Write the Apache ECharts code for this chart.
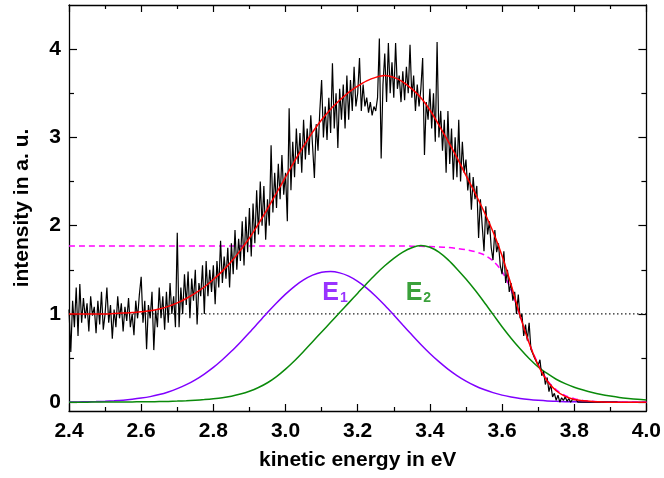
<!DOCTYPE html>
<html><head><meta charset="utf-8">
<script src="https://cdn.jsdelivr.net/npm/echarts@6/dist/echarts.min.js"></script>
<style>html,body{margin:0;padding:0;background:#fff}#c{width:664px;height:478px}</style>
</head><body><div id="c"></div>
<script>
// ---- tick values ----
const xMajorTicks = [2.4, 2.6, 2.8, 3.0, 3.2, 3.4, 3.6, 3.8, 4.0];
const xMinorTicks = [2.5, 2.7, 2.9, 3.1, 3.3, 3.5, 3.7, 3.9];
const yMajorTicks = [0, 1, 2, 3, 4];
const yMinorTicks = [0.5, 1.5, 2.5, 3.5];

// ---- measured spectrum (sampled every 0.005 eV from 2.40 eV) ----
const measuredStart = 2.4;
const measuredStep = 0.005;
const measured = [
  1.05,0.57,1.15,0.85,1.3,0.75,1.34,0.9,1.18,0.95,1.12,0.8,1.2,0.98,1.08,0.78,1.15,0.88,1.25,0.82,
  1.0,1.3,0.9,1.1,0.72,1.05,0.85,1.2,0.95,1.12,0.8,1.08,0.92,1.18,0.85,1.0,0.76,1.15,0.95,1.22,
  1.42,0.9,1.15,0.6,1.1,0.95,1.25,0.59,1.05,0.85,1.3,0.95,1.2,0.82,1.25,0.9,1.35,1.0,1.2,0.85,
  1.92,0.85,1.3,1.0,1.45,1.1,1.48,0.95,1.4,1.15,1.5,0.88,1.35,1.2,1.55,1.0,1.6,1.2,1.5,1.25,
  1.55,1.11,1.6,1.3,1.83,1.35,1.65,1.4,1.75,1.3,1.8,1.45,1.95,1.5,1.85,1.6,2.05,1.55,2.1,1.7,
  2.2,1.65,2.25,1.8,2.4,1.9,2.5,2.0,2.45,1.84,2.3,2.0,2.91,2.15,2.6,2.2,2.7,2.3,2.8,2.35,
  2.6,2.05,3.33,2.4,2.95,2.55,3.1,2.7,3.05,2.6,3.2,2.75,3.1,2.8,3.25,2.9,2.54,3.15,2.85,3.3,
  3.65,3.0,3.35,2.97,3.45,3.05,3.84,3.1,3.5,2.88,3.55,3.2,3.6,3.1,3.7,3.2,3.65,3.3,3.8,3.35,
  3.5,3.9,3.3,3.6,3.35,3.45,3.28,3.4,3.25,3.35,3.3,3.45,4.12,2.76,3.6,3.95,3.4,4.07,3.5,3.85,
  3.45,4.07,3.55,3.7,3.4,3.75,3.42,3.8,3.5,4.05,3.45,3.7,3.3,3.6,3.35,3.55,3.9,2.80,3.4,3.2,
  3.55,3.1,3.5,2.95,4.08,3.0,3.3,2.85,3.2,2.6,3.3,2.7,3.1,2.52,3.0,2.55,3.2,2.5,2.95,2.6,
  2.75,2.4,2.6,2.18,2.55,2.3,2.45,1.86,2.3,2.0,1.71,2.22,1.9,2.05,1.75,1.61,1.95,1.7,1.8,1.55,
  1.45,1.71,1.35,1.5,1.25,1.35,1.15,1.25,1.0,1.22,0.95,1.0,0.75,0.88,0.7,0.9,0.6,0.55,0.5,0.48,
  0.42,0.48,0.3,0.35,0.2,0.28,0.12,0.2,0.06,0.1,0.02,0.08,0.0,0.05,0.02,0.06,0.01,0.04,0.0,0.03,
  0.01,0.03,0.0,0.02,0.0,0.01,0.0,0.02,0.0,0.01,0.0,0.015,0.0,0.01,0.0,0.01,0.0,0.01,0.0,0.0,
  0.0,0.01,0.0,0.01,0.0
];

// ---- curves below are sampled every 0.025 eV from 2.40 eV ----
const curveStart = 2.4;
const curveStep = 0.025;

// total fit (red)
const fitY = [
  1.00,1.00,1.00,1.00,1.00,1.005,1.01,1.015,1.025,1.035,1.055,1.085,
  1.125,1.175,1.235,1.305,1.39,1.485,1.595,1.72,1.86,2.02,2.19,2.37,
  2.55,2.73,2.90,3.06,3.20,3.32,3.42,3.51,3.58,3.64,3.68,3.70,
  3.68,3.63,3.55,3.45,3.31,3.14,2.96,2.77,2.57,2.37,2.16,1.93,
  1.66,1.33,0.98,0.67,0.42,0.24,0.13,0.065,0.03,0.015,0.007,0.003,
  0.0,0.0,0.0,0.0,0.0
];

// component E1 (violet)
const e1Y = [
  0.002,0.003,0.005,0.007,0.011,0.016,0.023,0.033,0.046,0.063,0.086,0.116,
  0.153,0.198,0.253,0.319,0.394,0.481,0.576,0.680,0.789,0.902,1.015,1.123,
  1.224,1.313,1.385,1.439,1.471,1.480,1.465,1.428,1.369,1.293,1.201,1.098,
  0.988,0.875,0.763,0.654,0.552,0.459,0.375,0.302,0.239,0.186,0.143,0.108,
  0.080,0.059,0.042,0.030,0.021,0.014,0.010,0.006,0.004,0.003,0.002,0.001,
  0.001,0.001,0.0,0.0,0.0
];

// component E2 (green)
const e2Y = [
  0.0,0.0,0.0005,0.001,0.001,0.0015,0.002,0.003,0.004,0.005,0.007,0.009,
  0.012,0.016,0.022,0.029,0.038,0.05,0.068,0.092,0.124,0.166,0.22,0.29,
  0.375,0.47,0.575,0.685,0.795,0.905,1.015,1.125,1.235,1.345,1.45,1.545,
  1.63,1.70,1.75,1.775,1.755,1.70,1.615,1.51,1.395,1.27,1.135,0.995,
  0.855,0.725,0.605,0.495,0.40,0.325,0.26,0.21,0.17,0.138,0.11,0.088,
  0.07,0.054,0.042,0.032,0.025
];

// ---- cutoff envelope (magenta dashed) ----
const edgeX = [2.4,3.3,3.325,3.35,3.375,3.4,3.425,3.45,3.475,3.5,3.525,3.55,3.575,3.6,3.625,3.65,3.675,3.7,3.725,3.75,3.775,3.8,3.825,3.85,3.875,3.9,4.0];
const edgeY = [1.77,1.77,1.77,1.768,1.766,1.763,1.758,1.752,1.742,1.728,1.705,1.67,1.6,1.48,1.27,0.98,0.67,0.43,0.25,0.14,0.075,0.04,0.02,0.01,0.004,0.0,0.0];

// ---- constant background ----
const bgX = [2.4, 4.0];
const bgY = [1.0, 1.0];

const zip = (xs, ys) => xs.map((x, i) => [x, ys[i]]);
const onGrid = (start, step, ys) => ys.map((v, i) => [+(start + i * step).toFixed(4), v]);

const FONT = '"Liberation Sans", Arial, Helvetica, sans-serif';
const black = '#000';
const lineSt = { color: black, width: 1.3 };

function xAxisDef(pos, ticks, len, showLine, showLabel) {
  return {
    type: 'value', position: pos, min: 2.4, max: 4.0,
    axisLine: { show: showLine, onZero: false, lineStyle: lineSt },
    axisTick: { show: true, inside: true, length: len, customValues: ticks, lineStyle: { color: black, width: 1.2 } },
    axisLabel: showLabel ? { show: true, customValues: ticks, formatter: v => Number(v).toFixed(1),
      fontSize: 21, fontWeight: 'bold', color: black, fontFamily: FONT, margin: 10 } : { show: false },
    splitLine: { show: false }
  };
}
function yAxisDef(pos, ticks, len, showLine, showLabel) {
  return {
    type: 'value', position: pos, min: -0.1, max: 4.5,
    axisLine: { show: showLine, onZero: false, lineStyle: lineSt },
    axisTick: { show: true, inside: true, length: len, customValues: ticks, lineStyle: { color: black, width: 1.2 } },
    axisLabel: showLabel ? { show: true, customValues: ticks, formatter: v => String(Math.round(v)),
      fontSize: 21, fontWeight: 'bold', color: black, fontFamily: FONT, margin: 8 } : { show: false },
    splitLine: { show: false }
  };
}

const xMain = xAxisDef('bottom', xMajorTicks, 7, true, true);
xMain.name = 'kinetic energy in eV';
xMain.nameLocation = 'middle';
xMain.nameGap = 39;
xMain.nameTextStyle = { fontSize: 21, fontWeight: 'bold', color: black, fontFamily: FONT };

const yMain = yAxisDef('left', yMajorTicks, 8, true, true);
yMain.name = 'intensity in a. u.';
yMain.nameLocation = 'middle';
yMain.nameGap = 36;
yMain.nameTextStyle = { fontSize: 21, fontWeight: 'bold', color: black, fontFamily: FONT };

const labelRich = (c) => ({
  e: { fontSize: 25, fontWeight: 'bold', color: c, fontFamily: FONT },
  s: { fontSize: 14, fontWeight: 'bold', color: c, fontFamily: FONT, verticalAlign: 'bottom', padding: [0, 0, 1, 1] }
});

const smoothLine = (name, data, style, z) => ({
  name, type: 'line', data, showSymbol: false, smooth: 0.3, z, lineStyle: style
});

const option = {
  animation: false,
  backgroundColor: '#fff',
  grid: { left: 69, right: 17, top: 5, bottom: 67, containLabel: false },
  xAxis: [
    xMain,
    xAxisDef('bottom', xMinorTicks, 4, false, false),
    xAxisDef('top', xMajorTicks, 7, true, false),
    xAxisDef('top', xMinorTicks, 4, false, false)
  ],
  yAxis: [
    yMain,
    yAxisDef('left', yMinorTicks, 5, false, false),
    yAxisDef('right', yMajorTicks, 8, true, false),
    yAxisDef('right', yMinorTicks, 5, false, false)
  ],
  series: [
    { name: 'background', type: 'line', data: zip(bgX, bgY), showSymbol: false, z: 1,
      lineStyle: { color: '#222', width: 1.3, type: [1.5, 2.5] } },
    smoothLine('edge', zip(edgeX, edgeY), { color: '#ff00ff', width: 1.5, type: [6, 4] }, 2),
    smoothLine('E1', onGrid(curveStart, curveStep, e1Y), { color: '#8000ff', width: 1.5 }, 3),
    smoothLine('E2', onGrid(curveStart, curveStep, e2Y), { color: '#0a8a0a', width: 1.5 }, 3),
    { name: 'measured', type: 'line', data: onGrid(measuredStart, measuredStep, measured), showSymbol: false, z: 4,
      lineStyle: { color: '#000', width: 1.2 } },
    smoothLine('fit', onGrid(curveStart, curveStep, fitY), { color: '#ff0000', width: 1.5 }, 5),
    { name: 'labels', type: 'scatter', symbolSize: 0, z: 6, silent: true,
      data: [
        { value: [3.102, 1.09], label: { formatter: '{e|E}{s|1}', rich: labelRich('#8000ff') } },
        { value: [3.333, 1.09], label: { formatter: '{e|E}{s|2}', rich: labelRich('#0a8a0a') } }
      ],
      label: { show: true, position: [0, 0], align: 'left', verticalAlign: 'bottom' } }
  ]
};

const chart = echarts.init(document.getElementById('c'), null, { renderer: 'canvas' });
chart.setOption(option);
</script>
</body></html>
